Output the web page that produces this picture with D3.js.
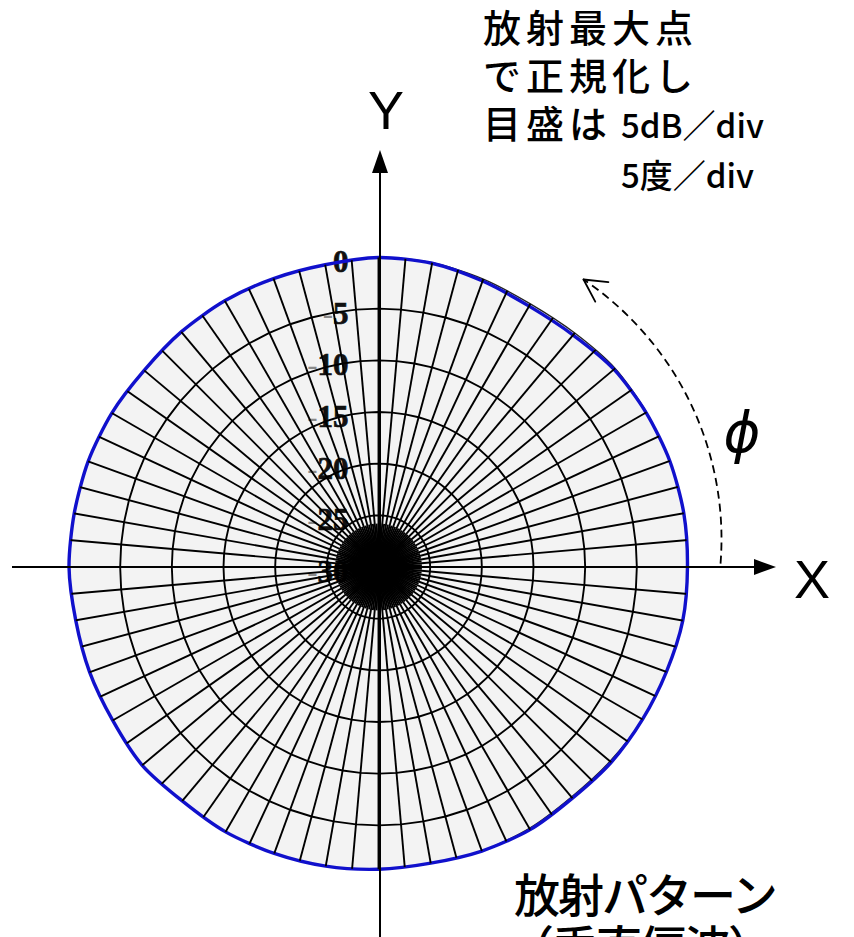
<!DOCTYPE html>
<html>
<head>
<meta charset="utf-8">
<script src="https://cdn.jsdelivr.net/npm/d3@7"></script>
<style>
  html, body { margin: 0; padding: 0; background: #fff; overflow: hidden; }
  svg { display: block; }
</style>
</head>
<body>
<svg id="chart" width="854" height="937"></svg>
<script>
// Azimuth angle φ in degrees, counter-clockwise from +X
const azimuthDeg = [0, 10, 20, 30, 40, 50, 60, 70, 80, 90, 100, 110, 120, 130, 140, 150, 160, 170,
                    180, 190, 200, 210, 220, 230, 240, 250, 260, 270, 280, 290, 300, 310, 320, 330, 340, 350];
// Measured pattern, normalized to its maximum (dB)
const gainDb = [-0.1, 0, 0, -0.1, -0.25, -0.7, -0.85, -0.55, -0.15, -0.05, -0.3, -0.3, -0.25, -0.3, -0.4, -0.2, -0.1, -0.1,
                -0.05, -0.25, -0.25, -0.3, -0.15, -0.45, -0.4, -0.5, -0.6, -0.75, -0.9, -0.75, -0.65, -0.8, -0.6, -0.5, -0.35, -0.1];
// Second (black) trace, mostly hidden under the blue one
const traceDb = [-0.1, 0, 0, -0.05, -0.1, -0.45, -0.6, -0.35, -0.1, -0.05, -0.3, -0.3, -0.25, -0.3, -0.4, -0.2, -0.1, -0.1,
                 -0.05, -0.25, -0.25, -0.3, -0.15, -0.45, -0.4, -0.5, -0.6, -0.75, -0.9, -0.75, -0.8, -0.95, -0.75, -0.5, -0.35, -0.1];
// Radial rings (5 dB/div) and their labels
const ringDb = [0, -5, -10, -15, -20, -25, -30];
const ringLabels = ["0", "-5", "-10", "-15", "-20", "-25", "-30"];
// Angular grid: 5 degrees/div, with finer spokes inside the -25 dB ring
const spokeStepDeg = 5;
const innerSpokeStepDeg = 2.5;
// Notes
const noteLines = ["放射最大点", "で正規化し", "目盛は"];
const noteUnits = ["5dB／div", "5度／div"];
const captionLines = ["放射パターン", "（垂直偏波）"];

const cx = 378.5, cy = 567, R = 310;
const rScale = d3.scaleLinear().domain([-30, 0]).range([0, R]);
// lineRadial measures angle clockwise from 12 o'clock
const rad = a => (90 - a) * Math.PI / 180;
const toXY = (a, r) => [r * Math.cos(a * Math.PI / 180), -r * Math.sin(a * Math.PI / 180)];

const svg = d3.select("#chart");
const pts = azimuthDeg.map((a, i) => ({ a, g: gainDb[i], t: traceDb[i] }));

const curveFor = acc => d3.lineRadial()
  .angle(d => rad(d.a))
  .radius(d => rScale(acc(d)))
  .curve(d3.curveCardinalClosed.tension(0.2));

const outerPath = curveFor(d => Math.max(d.g, d.t))(pts);
const gainPath = curveFor(d => d.g)(pts);
const tracePath = curveFor(d => d.t)(pts);

svg.append("defs").append("clipPath").attr("id", "inside")
  .append("path").attr("transform", `translate(${cx},${cy})`).attr("d", outerPath);

const plot = svg.append("g").attr("transform", `translate(${cx},${cy})`);

// plotting area background
plot.append("path").attr("d", outerPath).attr("fill", "#f3f3f3");

// grid, clipped to the pattern
const grid = svg.append("g").attr("clip-path", "url(#inside)")
  .append("g").attr("transform", `translate(${cx},${cy})`);

const spokeAngles = d3.range(0, 360, spokeStepDeg);
grid.selectAll("line.spoke").data(spokeAngles).join("line")
  .attr("class", "spoke")
  .attr("x1", 0).attr("y1", 0)
  .attr("x2", a => toXY(a, R + 20)[0])
  .attr("y2", a => toXY(a, R + 20)[1])
  .attr("stroke", "#000").attr("stroke-width", 1.9);

const innerR = rScale(-25.8);
grid.selectAll("line.inner").data(d3.range(0, 360, innerSpokeStepDeg).filter(a => a % spokeStepDeg !== 0)).join("line")
  .attr("class", "inner")
  .attr("x1", 0).attr("y1", 0)
  .attr("x2", a => toXY(a, innerR)[0])
  .attr("y2", a => toXY(a, innerR)[1])
  .attr("stroke", "#000").attr("stroke-width", 1.9);

const ringLine = d3.lineRadial().angle(a => rad(a)).curve(d3.curveLinearClosed);
grid.selectAll("path.ring").data(ringDb.filter(v => v > -30 && v < 0)).join("path")
  .attr("class", "ring")
  .attr("d", v => ringLine.radius(rScale(v))(spokeAngles))
  .attr("fill", "none").attr("stroke", "#000").attr("stroke-width", 1.9);

// ring labels
const lbl = plot.selectAll("text.rl").data(ringDb).join("text")
  .attr("class", "rl")
  .attr("x", -30)
  .attr("y", v => -rScale(v) + 15)
  .attr("text-anchor", "end")
  .attr("font-family", "Liberation Serif, serif")
  .attr("font-weight", "bold")
  .attr("font-size", 31)
  .attr("fill", "#111")
  .attr("stroke", "#111").attr("stroke-width", 0.7);
lbl.each(function (v, i) {
  const s = ringLabels[i];
  const t = d3.select(this);
  if (s.startsWith("-")) {
    t.append("tspan").attr("fill", "#8a8a8a").attr("stroke", "none").attr("font-weight", "normal").text("-");
    t.append("tspan").text(s.slice(1));
  } else {
    t.text(s);
  }
});

// pattern traces
plot.append("path").attr("d", tracePath)
  .attr("fill", "none").attr("stroke", "#222").attr("stroke-width", 1.3);
plot.append("path").attr("d", gainPath)
  .attr("fill", "none").attr("stroke", "#1010cc").attr("stroke-width", 3.4)
  .attr("stroke-linejoin", "round");

// axes
const ax = cx + 1.5;
svg.append("line").attr("x1", 12).attr("y1", cy).attr("x2", 760).attr("y2", cy)
  .attr("stroke", "#000").attr("stroke-width", 2);
svg.append("path").attr("d", `M776,${cy} L754,${cy - 8} L754,${cy + 8} Z`).attr("fill", "#000");
svg.append("line").attr("x1", ax).attr("y1", 937).attr("x2", ax).attr("y2", 168)
  .attr("stroke", "#000").attr("stroke-width", 2);
svg.append("path").attr("d", `M${ax},150 L${ax - 8},173 L${ax + 8},173 Z`).attr("fill", "#000");

svg.append("text").attr("x", 386).attr("y", 129).attr("text-anchor", "middle")
  .attr("font-family", "Liberation Sans, sans-serif").attr("font-size", 54).text("Y");
svg.append("text").attr("x", 812).attr("y", 598).attr("text-anchor", "middle")
  .attr("font-family", "Liberation Sans, sans-serif").attr("font-size", 54).text("X");

// φ direction arrow (dashed arc)
const arcC = { x: cx + 30, y: cy - 28, r: 313 };
const a0 = 4.5 * Math.PI / 180, a1 = -56 * Math.PI / 180;
const p = d3.path();
p.arc(arcC.x, arcC.y, arcC.r, a0, a1, true);
svg.append("path").attr("d", p.toString()).attr("fill", "none")
  .attr("stroke", "#000").attr("stroke-width", 1.8).attr("stroke-dasharray", "8,5");
const tip = [arcC.x + arcC.r * Math.cos(a1), arcC.y + arcC.r * Math.sin(a1)];
const back = Math.atan2(Math.cos(a1), -Math.sin(a1)); // pointing back along the arc
[-28, 28].forEach(w => {
  const ang = back + w * Math.PI / 180;
  svg.append("line").attr("x1", tip[0]).attr("y1", tip[1])
    .attr("x2", tip[0] + 25 * Math.cos(ang)).attr("y2", tip[1] + 25 * Math.sin(ang))
    .attr("stroke", "#000").attr("stroke-width", 1.8).attr("stroke-linecap", "round");
});
svg.append("text").attr("x", 742).attr("y", 452).attr("text-anchor", "middle")
  .attr("font-family", "DejaVu Sans, sans-serif").attr("font-style", "italic")
  .attr("font-size", 56).text("ϕ");

// notes
const jp = "Noto Sans CJK JP, sans-serif";
const noteY = [42, 90, 138];
noteLines.forEach((s, i) => {
  svg.append("text").attr("x", 483).attr("y", noteY[i])
    .attr("font-family", jp).attr("font-weight", 500).attr("font-size", 38).attr("letter-spacing", 5).text(s);
});
[138, 188].forEach((y, i) => {
  svg.append("text").attr("x", 621).attr("y", y)
    .attr("font-family", jp).attr("font-weight", 500).attr("font-size", 33).text(noteUnits[i]);
});
[912, 964].forEach((y, i) => {
  svg.append("text").attr("x", i === 0 ? 514 : 508).attr("y", y)
    .attr("font-family", jp).attr("font-weight", 500).attr("font-size", 46).attr("letter-spacing", -2).text(captionLines[i]);
});
</script>
</body>
</html>
